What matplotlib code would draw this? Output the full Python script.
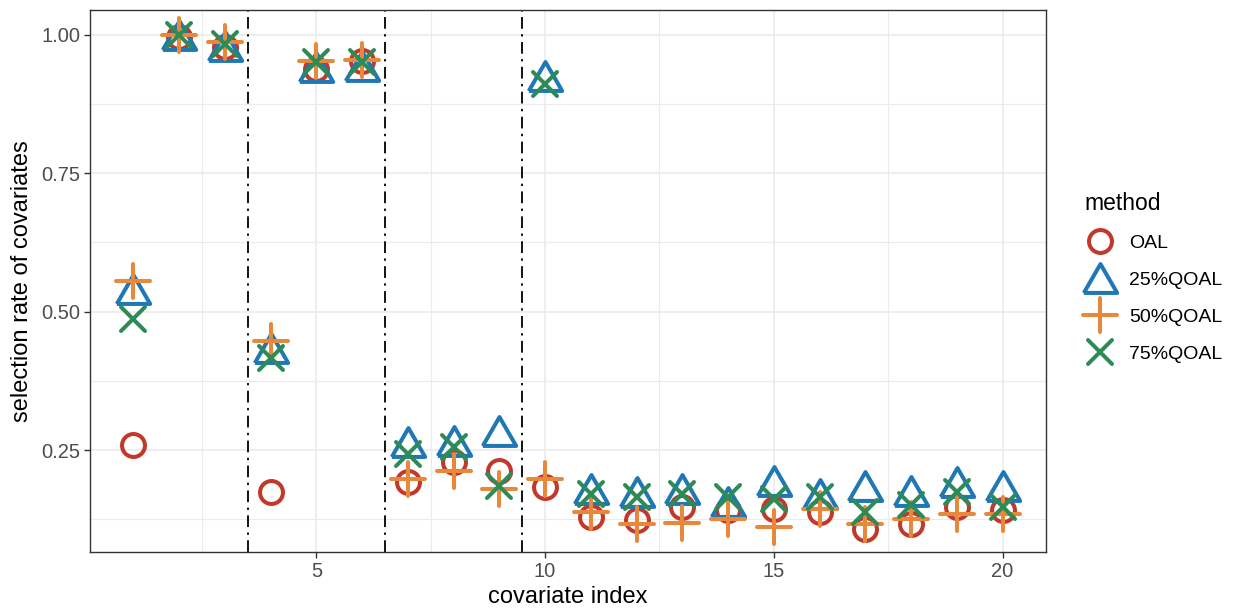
import matplotlib
matplotlib.use('Agg')
import numpy as np
import matplotlib.pyplot as plt
from matplotlib.markers import MarkerStyle
from matplotlib.ticker import FixedLocator

plt.rcParams['font.family'] = ['Liberation Sans', 'DejaVu Sans']

# data
index = np.arange(1, 21)
oal = [0.259, 0.995, 0.977, 0.174, 0.938, 0.953, 0.192, 0.228, 0.213, 0.183,
       0.129, 0.123, 0.147, 0.141, 0.144, 0.138, 0.108, 0.117, 0.147, 0.141]
q25 = [0.541, 1.000, 0.980, 0.435, 0.941, 0.944, 0.264, 0.267, 0.285, 0.926,
       0.180, 0.174, 0.180, 0.156, 0.195, 0.171, 0.186, 0.177, 0.192, 0.186]
q50 = [0.556, 0.999, 0.986, 0.447, 0.952, 0.954, 0.198, 0.212, 0.179, 0.198,
       0.138, 0.117, 0.119, 0.125, 0.111, 0.144, 0.116, 0.125, 0.134, 0.135]
q75 = [0.487, 0.999, 0.983, 0.417, 0.950, 0.950, 0.243, 0.255, 0.186, 0.911,
       0.171, 0.165, 0.171, 0.165, 0.162, 0.165, 0.138, 0.150, 0.174, 0.147]
labels = ['OAL', '25%QOAL', '50%QOAL', '75%QOAL']
colors = ['#C0392B', '#1F78B4', '#E8883A', '#2E8B57']
breaks = [3.5, 6.5, 9.5]

tri = MarkerStyle([(-1, -0.866), (1, -0.866), (0, 0.866), (-1, -0.866)])
plus = MarkerStyle('+', capstyle='round')
cross = MarkerStyle('x', capstyle='round')
markers = ['o', tri, plus, cross]
msizes = [16.5, 24, 25, 17.5]

fig = plt.figure(figsize=(12.38, 6.12), dpi=100)
ax = fig.add_axes([0.0727, 0.098, 0.7722, 0.886])

lw = 2.9
for vals, lab, c, m, ms in zip([oal, q25, q50, q75], labels, colors, markers, msizes):
    ax.plot(index, vals, linestyle='none', marker=m, markersize=ms,
            markerfacecolor='none', markeredgecolor=c, markeredgewidth=lw,
            label=lab, zorder=3)

for b in breaks:
    ax.axvline(b, color='black', linewidth=1.3, dashes=(6.5, 3, 1.3, 3), zorder=2)

ax.set_xlim(0.05, 20.95)
ax.set_ylim(0.066, 1.045)
ax.xaxis.set_major_locator(FixedLocator([5, 10, 15, 20]))
ax.xaxis.set_minor_locator(FixedLocator([2.5, 7.5, 12.5, 17.5]))
ax.yaxis.set_major_locator(FixedLocator([0.25, 0.5, 0.75, 1.0]))
ax.yaxis.set_minor_locator(FixedLocator([0.125, 0.375, 0.625, 0.875]))
ax.set_yticklabels(['0.25', '0.50', '0.75', '1.00'])
ax.grid(which='major', color='#EBEBEB', linewidth=1.2, zorder=0)
ax.grid(which='minor', color='#EBEBEB', linewidth=0.8, zorder=0)
ax.set_axisbelow(True)
ax.tick_params(which='major', length=4, width=1, color='#333333',
               labelsize=14.5, labelcolor='#4D4D4D', pad=3)
ax.tick_params(which='minor', length=0)
for s in ax.spines.values():
    s.set_color('#333333')
    s.set_linewidth(1)

ax.set_xlabel('covariate index', fontsize=17, labelpad=4)
ax.set_ylabel('selection rate of covariates', fontsize=17, labelpad=6)

leg = ax.legend(title='method', loc='upper left', bbox_to_anchor=(0.8695, 0.699),
                bbox_transform=fig.transFigure, frameon=False, fontsize=14,
                title_fontsize=16.5, handlelength=1.6, handletextpad=0.7,
                labelspacing=1.0, borderaxespad=0)
leg._legend_box.align = 'left'

fig.savefig('out.png', dpi=100)
